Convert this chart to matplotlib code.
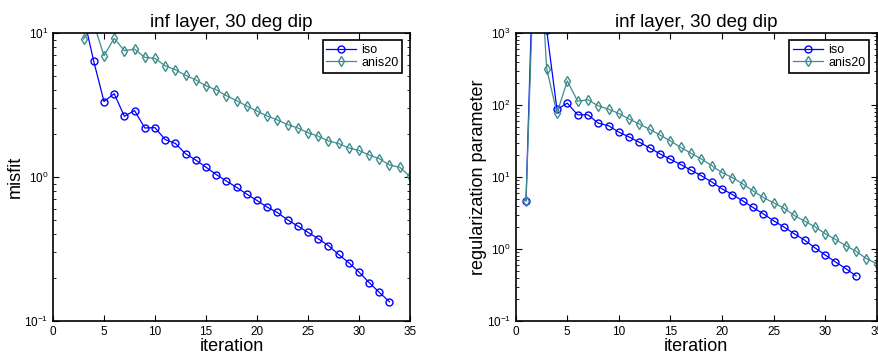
import matplotlib
matplotlib.use("Agg")
import matplotlib.pyplot as plt
import numpy as np

plt.rcParams['font.family'] = ['Liberation Sans', 'DejaVu Sans']
plt.rcParams['mathtext.default'] = 'regular'

# misfit vs iteration (left)
it_misfit_iso = list(range(3, 34))
misfit_iso = [13.0, 6.34, 3.34, 3.79, 2.64, 2.89, 2.19, 2.20, 1.82, 1.71, 1.45, 1.31,
              1.17, 1.04, 0.938, 0.847, 0.761, 0.687, 0.618, 0.567, 0.504, 0.457,
              0.413, 0.373, 0.334, 0.290, 0.254, 0.219, 0.185, 0.158, 0.136]
it_misfit_anis = list(range(3, 36))
misfit_anis = [9.08, 11.6, 6.95, 9.18, 7.53, 7.73, 6.77, 6.66, 5.92, 5.55, 5.09, 4.72,
               4.29, 4.03, 3.67, 3.39, 3.11, 2.87, 2.65, 2.49, 2.31, 2.19, 2.03, 1.92,
               1.78, 1.71, 1.59, 1.53, 1.42, 1.34, 1.21, 1.17, 1.01]

# regularization parameter vs iteration (right)
it_reg_iso = list(range(1, 34))
reg_iso = [4.67, 3.0e5, 1100, 87, 106, 73, 73, 56, 51.5, 42, 35.9, 30.3, 25.3, 20.9,
           17.6, 14.9, 12.4, 10.4, 8.55, 6.84, 5.71, 4.67, 3.77, 3.08, 2.47, 2.02,
           1.63, 1.33, 1.04, 0.826, 0.661, 0.534, 0.423]
it_reg_anis = list(range(1, 36))
reg_anis = [4.67, 9.0e4, 321, 76.6, 216, 113, 118, 97.3, 87.5, 76.3, 63.7, 54.3, 45.8,
            38.2, 31.6, 25.8, 21.3, 17.8, 14.4, 11.5, 9.82, 8.02, 6.42, 5.19, 4.38,
            3.69, 2.92, 2.44, 2.04, 1.63, 1.36, 1.11, 0.929, 0.735, 0.627]

iso_color = '#0000ff'
anis_color = '#3f8c8c'

fig = plt.figure(figsize=(8.79, 3.62), dpi=100)
ax1 = fig.add_axes([0.0603, 0.1133, 0.406, 0.7956])
ax2 = fig.add_axes([0.5867, 0.1133, 0.4107, 0.7956])

def style(ax, ylim, ylabel):
    ax.set_yscale('log')
    ax.set_xlim(0, 35)
    ax.set_ylim(*ylim)
    ax.set_xticks(range(0, 36, 5))
    ax.tick_params(which='both', direction='in', top=True, right=True, labelsize=8.5)
    ax.tick_params(which='major', length=4, width=0.8)
    ax.tick_params(which='minor', length=2.5, width=0.6)
    for s in ax.spines.values():
        s.set_linewidth(1.2)
    ax.set_title('inf layer, 30 deg dip', fontsize=13.5, pad=4)
    ax.set_xlabel('iteration', fontsize=13, labelpad=0)
    ax.set_ylabel(ylabel, fontsize=13, labelpad=0)
    leg = ax.legend(loc='upper right', fontsize=9, fancybox=False, framealpha=1,
                    edgecolor='black', handlelength=2.4, borderpad=0.3,
                    labelspacing=0.05, handletextpad=0.4, borderaxespad=0.6)
    leg.get_frame().set_linewidth(1.2)

ax1.plot(it_misfit_iso, misfit_iso, '-o', color=iso_color, mfc='none', ms=5, lw=0.9, label='iso')
ax1.plot(it_misfit_anis, misfit_anis, '-d', color=anis_color, mfc='none', ms=5, lw=0.9, label='anis20')
style(ax1, (0.1, 10), 'misfit')

ax2.plot(it_reg_iso, reg_iso, '-o', color=iso_color, mfc='none', ms=5, lw=0.9, label='iso')
ax2.plot(it_reg_anis, reg_anis, '-d', color=anis_color, mfc='none', ms=5, lw=0.9, label='anis20')
style(ax2, (0.1, 1000), 'regularization parameter')

fig.savefig('out.png', dpi=100)
